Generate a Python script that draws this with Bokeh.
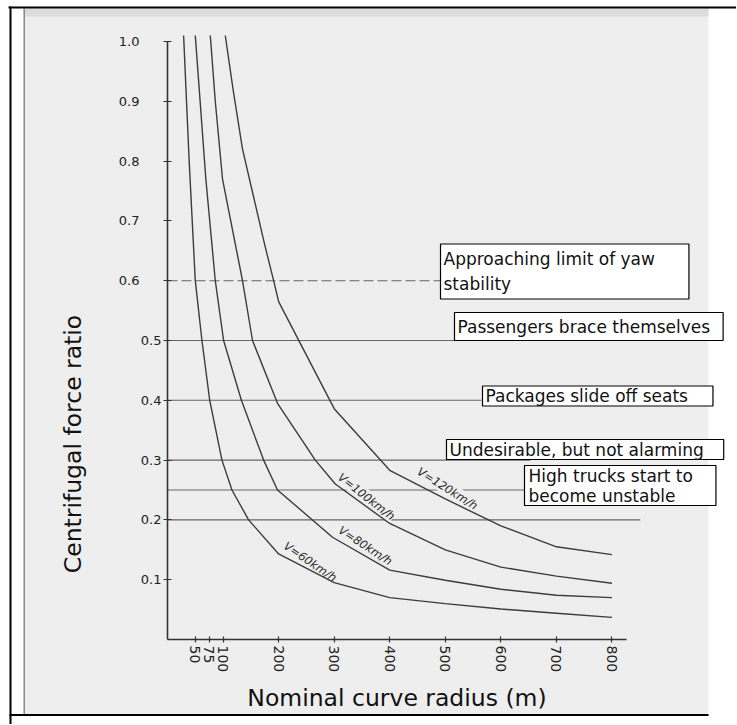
from bokeh.plotting import figure
from bokeh.models import Range1d, LinearAxis, FixedTicker, Label
from bokeh.embed import file_html
from bokeh.resources import INLINE

# ---------------- data ----------------
radius_v60 = [29, 39, 50, 62, 76, 98, 116, 146, 200, 300, 400, 500, 600, 700, 800]
ratio_v60 = [1.01, 0.80, 0.60, 0.50, 0.40, 0.30, 0.25, 0.20, 0.143, 0.095, 0.070, 0.060, 0.051, 0.044, 0.037]

radius_v80 = [50, 69, 86, 101, 133, 173, 198, 297, 400, 500, 600, 700, 800]
ratio_v80 = [1.01, 0.77, 0.60, 0.50, 0.40, 0.30, 0.25, 0.171, 0.116, 0.099, 0.084, 0.074, 0.070]

radius_v100 = [77, 86, 99, 135, 153, 198, 266, 302, 400, 500, 600, 700, 800]
ratio_v100 = [1.01, 0.90, 0.77, 0.60, 0.50, 0.395, 0.30, 0.26, 0.194, 0.150, 0.121, 0.106, 0.094]

radius_v120 = [104, 118, 135, 155, 175, 191, 200, 300, 400, 500, 600, 700, 800]
ratio_v120 = [1.01, 0.92, 0.82, 0.74, 0.66, 0.60, 0.565, 0.386, 0.283, 0.235, 0.19, 0.155, 0.142]

curve_names = ["V=60km/h", "V=80km/h", "V=100km/h", "V=120km/h"]

# threshold levels (ratio) and the radius where each drawn line stops
threshold_levels = [0.5, 0.4, 0.3, 0.25, 0.2]
threshold_ends = [518, 565, 653, 648, 851]
dashed_level = 0.6
dashed_end = 491

threshold_texts = [
    "Approaching limit of yaw\nstability",
    "Passengers brace themselves",
    "Packages slide off seats",
    "Undesirable, but not alarming",
    "High trucks start to\nbecome unstable",
]

y_ticks = [0.1, 0.2, 0.3, 0.4, 0.5, 0.6, 0.7, 0.8, 0.9, 1.0]
y_tick_labels = ["0.1", "0.2", "0.3", "0.4", "0.5", "0.6", "0.7", "0.8", "0.9", "1.0"]
x_ticks = [50, 75, 100, 200, 300, 400, 500, 600, 700, 800]
x_tick_labels = ["50", "75", "100", "200", "300", "400", "500", "600", "700", "800"]

x_title = "Nominal curve radius (m)"
y_title = "Centrifugal force ratio"

# ---------------- layout geometry (page pixels) ----------------
W, H = 736, 724
ORIGIN_PX = (167, 639)     # page position of (0, 0)
PX_PER_M = 0.5556
PX_PER_UNIT = 598.0


def xd(px):
    return (px - ORIGIN_PX[0]) / PX_PER_M


def yd(py):
    return (ORIGIN_PX[1] - py) / PX_PER_UNIT


p = figure(width=W, height=H, output_backend="svg", toolbar_location=None,
           x_range=Range1d(xd(0), xd(W)), y_range=Range1d(yd(H), yd(0)),
           x_axis_type=None, y_axis_type=None, title=None, min_border=0)
p.outline_line_color = None
p.background_fill_color = "white"
p.border_fill_color = "white"
p.xgrid.visible = False
p.ygrid.visible = False

# ---------------- scanned-page decoration ----------------
def box(l, r, t, b, color):
    p.quad(left=[xd(l)], right=[xd(r)], top=[yd(t)], bottom=[yd(b)],
           fill_color=color, line_color=None, level="underlay")

BG = "#eeeeee"
box(23, 708, 8, 714, BG)
box(23, 708, 8, 16, "#dcdcdc")
box(23, 24.5, 8, 714, "#8c8c8c")
box(8, W, 6, 8, "black")
box(9, 11, 6, 725, "black")
box(9, 708, 713.5, 715.5, "black")

# ---------------- threshold lines ----------------
p.segment(x0=[0] * len(threshold_levels), x1=threshold_ends,
          y0=threshold_levels, y1=threshold_levels,
          line_color="#666666", line_width=1.1, level="underlay")
p.segment(x0=[0], x1=[dashed_end], y0=[dashed_level], y1=[dashed_level],
          line_color="#666666", line_width=1.1, line_dash="10 4", level="underlay")

# ---------------- curve labels (with background to break threshold lines) ----------------
label_pos = [(257, 0.130), (356, 0.157), (358, 0.239), (504, 0.2525)]
label_angle = [-34, -33, -38, -32]
for name, (lx, ly), ang in zip(curve_names, label_pos, label_angle):
    p.add_layout(Label(x=lx, y=ly, text=name, angle=ang, angle_units="deg",
                       text_font="DejaVu Sans", text_font_size="11.5px",
                       text_font_style="italic", text_color="#2a2a2a",
                       text_align="center", text_baseline="middle",
                       background_fill_color=BG, level="underlay"))

# ---------------- curves ----------------
for rx, ry in [(radius_v60, ratio_v60), (radius_v80, ratio_v80),
               (radius_v100, ratio_v100), (radius_v120, ratio_v120)]:
    p.line(rx, ry, line_color="#3c3c3c", line_width=1.4)

# ---------------- axes ----------------
AX_COLOR = "#333333"
TICK_FONT = "DejaVu Sans"

xaxis = LinearAxis(fixed_location=0, bounds=(0, xd(626)),
                   ticker=FixedTicker(ticks=x_ticks),
                   major_label_overrides={t: s for t, s in zip(x_ticks, x_tick_labels)},
                   major_label_orientation="vertical",
                   major_label_text_font=TICK_FONT, major_label_text_font_size="14px",
                   major_label_text_color="#222222", major_label_standoff=3,
                   major_tick_in=3, major_tick_out=3, minor_tick_line_color=None,
                   axis_line_color=AX_COLOR, axis_line_width=1.6,
                   major_tick_line_color=AX_COLOR, major_tick_line_width=1.2,
                   axis_label=x_title, axis_label_text_font="DejaVu Sans",
                   axis_label_text_font_size="23.5px", axis_label_text_font_style="normal",
                   axis_label_text_color="#111111", axis_label_standoff=9)
p.add_layout(xaxis, "below")

lower = [(t, s) for t, s in zip(y_ticks, y_tick_labels) if t <= 0.5]
upper = [(t, s) for t, s in zip(y_ticks, y_tick_labels) if t > 0.5]

yaxis = LinearAxis(fixed_location=0, bounds=(0, 1.0),
                   ticker=FixedTicker(ticks=[t for t, _ in lower]),
                   major_label_overrides={t: s for t, s in lower},
                   major_label_text_font=TICK_FONT, major_label_text_font_size="13px",
                   major_label_text_color="#222222", major_label_standoff=2,
                   major_tick_in=4, major_tick_out=4, minor_tick_line_color=None,
                   axis_line_color=AX_COLOR, axis_line_width=1.6,
                   major_tick_line_color=AX_COLOR, major_tick_line_width=1.2)
p.add_layout(yaxis, "left")

yaxis2 = LinearAxis(fixed_location=0, bounds=(0, 1.0),
                    ticker=FixedTicker(ticks=[t for t, _ in upper]),
                    major_label_overrides={t: s for t, s in upper},
                    major_label_text_font=TICK_FONT, major_label_text_font_size="13px",
                    major_label_text_color="#222222", major_label_standoff=24,
                    major_tick_in=4, major_tick_out=4, minor_tick_line_color=None,
                    axis_line_color=None,
                    major_tick_line_color=AX_COLOR, major_tick_line_width=1.2)
p.add_layout(yaxis2, "left")

ytitle_axis = LinearAxis(fixed_location=0, bounds=(0, 2 * yd(443.5)),
                         ticker=FixedTicker(ticks=[]), axis_line_color=None,
                         major_tick_in=0, major_tick_out=0, minor_tick_line_color=None,
                         axis_label=y_title, axis_label_text_font="DejaVu Sans",
                         axis_label_text_font_size="23.5px", axis_label_text_font_style="normal",
                         axis_label_text_color="#111111", axis_label_standoff=81)
p.add_layout(ytitle_axis, "left")

# ---------------- threshold text boxes ----------------
box_anchor = [(xd(440), yd(271)), (xd(454), yd(326)), (xd(482), yd(395.5)),
              (xd(446), yd(449)), (xd(524), yd(485))]
box_pad = [dict(left=3, right=34, top=5, bottom=5),
           dict(left=3, right=13, top=4, bottom=4),
           dict(left=3, right=25, top=0, bottom=0),
           dict(left=3, right=20, top=0, bottom=0),
           dict(left=4, right=23, top=0, bottom=0)]
box_line_height = [1.25, 1.2, 1.2, 1.2, 1.0]
for txt, (bx, by), pad, lh in zip(threshold_texts, box_anchor, box_pad, box_line_height):
    p.add_layout(Label(x=bx, y=by, text=txt, text_font="DejaVu Sans",
                       text_font_size="17px", text_color="#111111",
                       text_align="left", text_baseline="middle", text_line_height=lh,
                       border_line_color="black", border_line_width=1.2,
                       background_fill_color="white", padding=pad))

open("out.html", "w").write(file_html(p, INLINE))
